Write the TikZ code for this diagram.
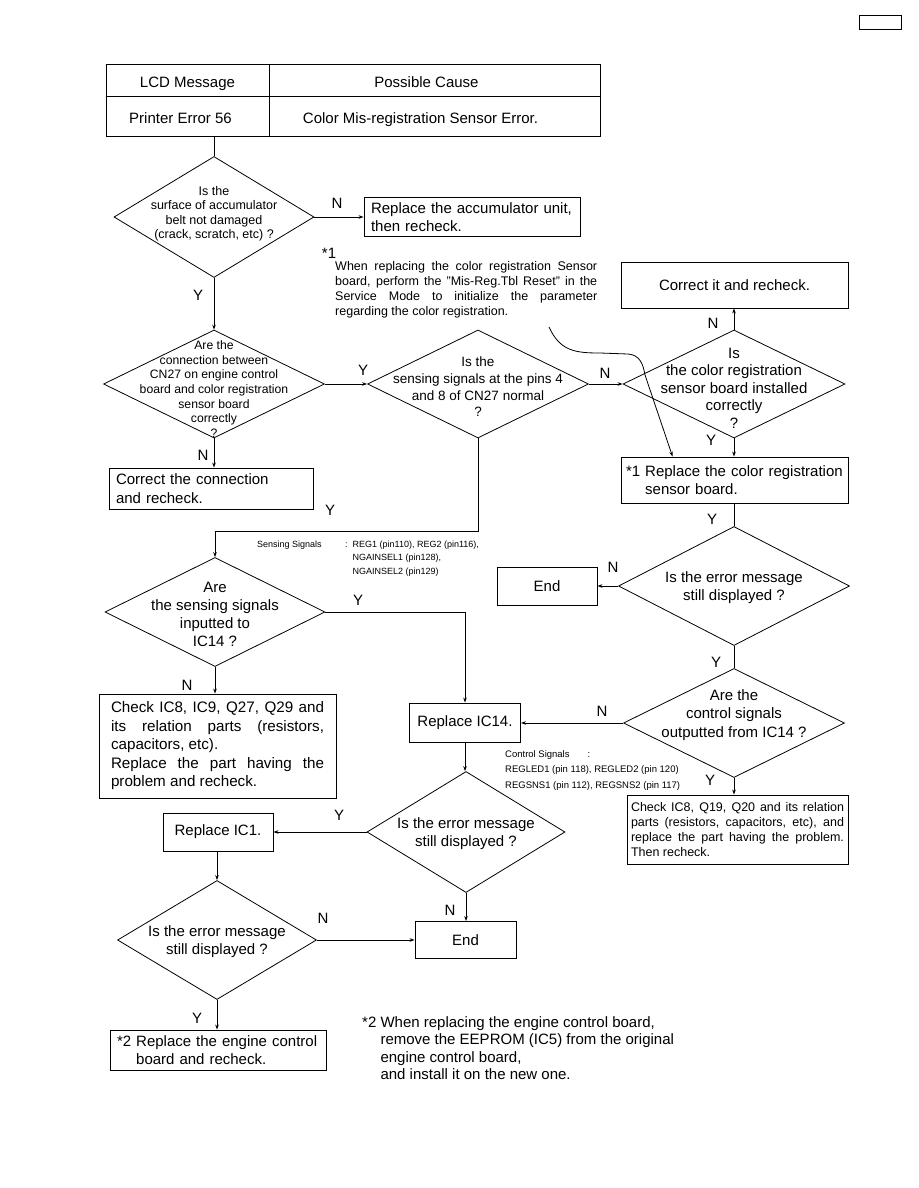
\documentclass[tikz,border=0pt]{standalone}
\usepackage{fontspec}
\setmainfont{Liberation Sans}
\usetikzlibrary{shapes.geometric,arrows.meta,calc}

\newcommand{\fs}[2]{\fontsize{#1}{#2}\selectfont}
\tikzset{
  box/.style={draw, line width=0.9pt, inner sep=0pt, align=center, font=\fs{15}{18}},
  cell/.style={box, text height=18pt, text depth=3pt},
  lbox/.style={draw, line width=0.9pt, inner ysep=0pt, align=left, font=\fs{15}{18.5}},
  dec/.style={draw, diamond, line width=0.8pt, inner sep=0pt},
  dtext/.style={align=center, inner sep=0pt},
  arr/.style={-{Stealth[length=5pt,width=3.6pt]}, line width=0.8pt},
  yn/.style={font=\fs{15}{18}, inner sep=0pt},
}

\begin{document}
\begin{tikzpicture}[x=1pt, y=-1pt]
    \useasboundingbox (0,0) rectangle (918,1188);
    \node[draw, line width=1pt, minimum width=42pt, minimum height=14pt, inner sep=0pt] (pgbox) at (880,23) {};

    % table at the top
    \node[cell, minimum width=163pt, minimum height=32pt] (lcd) at (187.5,80) {LCD Message};
    \node[cell, minimum width=331pt, minimum height=32pt] (cause) at (434.5,80) {\hspace*{-16pt}Possible Cause};
    \node[cell, minimum width=163pt, minimum height=40pt] (err) at (187.5,116) {\hspace*{-14pt}Printer Error 56};
    \node[cell, minimum width=331pt, minimum height=40pt] (desc) at (434.5,116) {\hspace*{-28pt}Color Mis-registration Sensor Error.};

    % decisions
    \node[dec, minimum width=200pt, minimum height=121pt] (q1) at (214,217) {};
    \node[dtext, font=\fs{12.5}{14.5}] (t1) at (214,214) {Is the\\surface of accumulator\\belt not damaged\\(crack, scratch, etc) ?};
    \node[dec, minimum width=221pt, minimum height=108pt] (q2) at (214,384) {};
    \node[dtext, font=\fs{12.2}{14.6}] (t2) at (214,389) {Are the\\connection between\\CN27 on engine control\\board and color registration\\sensor board\\correctly\\?};
    \node[dec, minimum width=221pt, minimum height=108pt] (q3) at (478,384) {};
    \node[dtext, font=\fs{13.5}{16.7}] (t3) at (478,387) {Is the\\sensing signals at the pins 4\\and 8 of CN27 normal\\?};
    \node[dec, minimum width=222pt, minimum height=108pt] (q4) at (734,384) {};
    \node[dtext, font=\fs{15}{17.5}] (t4) at (734,388) {Is\\the color registration\\sensor board installed\\correctly\\?};
    \node[dec, minimum width=231pt, minimum height=119pt] (q5) at (734,586) {};
    \node[dtext, font=\fs{15}{18}] (t5) at (734,588) {Is the error message\\still displayed ?};
    \node[dec, minimum width=221pt, minimum height=109pt] (q6) at (734,723) {};
    \node[dtext, font=\fs{15}{18.3}] (t6) at (734,715) {Are the\\control signals\\outputted from IC14 ?};
    \node[dec, minimum width=220pt, minimum height=109pt] (q9) at (215,612) {};
    \node[dtext, font=\fs{15}{18}] (t9) at (215,614) {Are\\the sensing signals\\inputted to\\IC14 ?};
    \node[dec, minimum width=198pt, minimum height=121pt] (q7) at (466,832) {};
    \node[dtext, font=\fs{15}{18}] (t7) at (466,834) {Is the error message\\still displayed ?};
    \node[dec, minimum width=199pt, minimum height=119pt] (q8) at (217,940) {};
    \node[dtext, font=\fs{15}{18}] (t8) at (217,942) {Is the error message\\still displayed ?};

    % actions
    \node[lbox, minimum width=216pt, minimum height=39pt, inner xsep=7pt, text width=202pt] (bAcc) at (472,217) {Replace the accumulator unit,\\then recheck.};
    \node[box, minimum width=227pt, minimum height=46pt] (bFix) at (734.5,285) {Correct it and recheck.};
    \node[lbox, minimum width=227pt, minimum height=46pt, inner xsep=5pt, text width=217pt] (bSens) at (734.5,480) {*1 Replace the color registration\\\hphantom{*1 }sensor board.};
    \node[lbox, minimum width=204pt, minimum height=41pt, inner xsep=7pt, text width=190pt] (bConn) at (211,488.5) {Correct the connection\\and recheck.};
    \node[box, minimum width=100pt, minimum height=38pt] (bEnd1) at (547,586) {End};
    \node[draw, line width=0.9pt, minimum width=237pt, minimum height=104pt, inner xsep=12pt, text width=213pt, align=justify, font=\fs{15.2}{18.5}] (bChk1) at (217.5,746) {Check IC8, IC9, Q27, Q29 and\linebreak its relation parts (resistors,\linebreak capacitors, etc).\\Replace the part having the\linebreak problem and recheck.};
    \node[box, minimum width=111pt, minimum height=39pt] (bIC14) at (465,722.5) {Replace IC14.};
    \node[draw, line width=0.9pt, minimum width=221pt, minimum height=69pt, inner xsep=4pt, text width=213pt, align=justify, font=\fs{12.5}{14.7}] (bChk2) at (737.5,829.5) {Check IC8, Q19, Q20 and its relation\linebreak parts (resistors, capacitors, etc), and\linebreak replace the part having the problem.\linebreak Then recheck.};
    \node[box, minimum width=110pt, minimum height=38pt] (bIC1) at (218,832) {Replace IC1.};
    \node[box, minimum width=101pt, minimum height=37pt] (bEnd2) at (465.5,940) {End};
    \node[lbox, minimum width=216pt, minimum height=40pt, inner xsep=7pt, text width=202pt] (bEcb) at (218,1050) {*2 Replace the engine control\\\hphantom{*2 }board and recheck.};

    % notes
    \node[font=\fs{15}{18}, inner sep=0pt] (n1star) at (329,253) {*1};
    \node[anchor=north west, inner sep=0pt, text width=262pt, align=justify, font=\fs{12.5}{15}] (n1) at (335,261) {When replacing the color registration Sensor\linebreak board, perform the "Mis-Reg.Tbl Reset" in the\linebreak Service Mode to initialize the parameter\linebreak regarding the color registration.};
    \node[anchor=west, inner sep=0pt, align=left, font=\fs{9}{13.5}] (sig) at (257,558.5) {\makebox[88pt][l]{Sensing Signals}:\hspace{5pt}REG1 (pin110), REG2 (pin116),\\\hspace*{95.5pt}NGAINSEL1 (pin128),\\\hspace*{95.5pt}NGAINSEL2 (pin129)};
    \node[anchor=west, inner sep=0pt, align=left, font=\fs{9.5}{15.5}] (ctl) at (505,770.5) {Control Signals\hspace{18pt}:\\REGLED1 (pin 118), REGLED2 (pin 120)\\REGSNS1 (pin 112), REGSNS2 (pin 117)};
    \node[anchor=north west, inner sep=0pt, align=left, font=\fs{15}{17.5}] (n2) at (362,1016) {*2 When replacing the engine control board,\\\hphantom{*2 }remove the EEPROM (IC5) from the original\\\hphantom{*2 }engine control board,\\\hphantom{*2 }and install it on the new one.};

    % connectors
    \draw[line width=0.8pt] (err.south -| q1.north) -- (q1.north);
    \draw[arr] (q1.east) -- (bAcc.west);
    \draw[arr] (q1.south) -- (q2.north);
    \draw[arr] (q2.east) -- (q3.west);
    \draw[arr] (q3.east) -- (q4.west);
    \draw[arr] (q4.north) -- (bFix.south -| q4.north);
    \draw[arr] (q4.south) -- (bSens.north -| q4.south);
    \draw[line width=0.8pt] (bSens.south -| q5.north) -- (q5.north);
    \draw[arr] (q5.west) -- (bEnd1.east |- q5.west);
    \draw[line width=0.8pt] (q5.south) -- (q6.north);
    \draw[arr] (q6.west) -- (bIC14.east |- q6.west);
    \draw[arr] (q6.south) -- (bChk2.north -| q6.south);
    \draw[arr] (q2.south) -- (bConn.north -| q2.south);
    \coordinate (jn) at (478,531);
    \draw[arr] (q3.south) -- (jn) -| (q9.north);
    \draw[arr] (q9.east) -| (bIC14.north);
    \draw[arr] (q9.south) -- (bChk1.north -| q9.south);
    \draw[arr] (bIC14.south) -- (q7.north -| bIC14.south);
    \draw[arr] (q7.west) -- (bIC1.east |- q7.west);
    \draw[arr] (q7.south) -- (bEnd2.north -| q7.south);
    \draw[arr] (bIC1.south -| q8.north) -- (q8.north);
    \draw[arr] (q8.east) -- (bEnd2.west |- q8.east);
    \draw[arr] (q8.south) -- (bEcb.north -| q8.south);
    \coordinate (cv) at (549,327);
    \draw[arr] (cv) .. controls (560,351) and (575,353) .. (600,353) -- (628,354) .. controls (640,355) and (643,364) .. (645,375) -- ($(bSens.north west)+(52,0)$);

    % Y / N labels
    \node[yn] (l1) at (337,203) {N};
    \node[yn] (l2) at (198,295) {Y};
    \node[yn] (l3) at (363,370) {Y};
    \node[yn] (l4) at (605,373) {N};
    \node[yn] (l5) at (713,323) {N};
    \node[yn] (l6) at (711,440) {Y};
    \node[yn] (l7) at (203,455) {N};
    \node[yn] (l8) at (330,510) {Y};
    \node[yn] (l9) at (712,519) {Y};
    \node[yn] (l10) at (613,567) {N};
    \node[yn] (l11) at (358,600) {Y};
    \node[yn] (l12) at (716,662) {Y};
    \node[yn] (l13) at (187,685) {N};
    \node[yn] (l14) at (602,711) {N};
    \node[yn] (l15) at (710,780) {Y};
    \node[yn] (l16) at (339,815) {Y};
    \node[yn] (l17) at (323,918) {N};
    \node[yn] (l18) at (450,910) {N};
    \node[yn] (l19) at (197,1018) {Y};
\end{tikzpicture}
\end{document}
